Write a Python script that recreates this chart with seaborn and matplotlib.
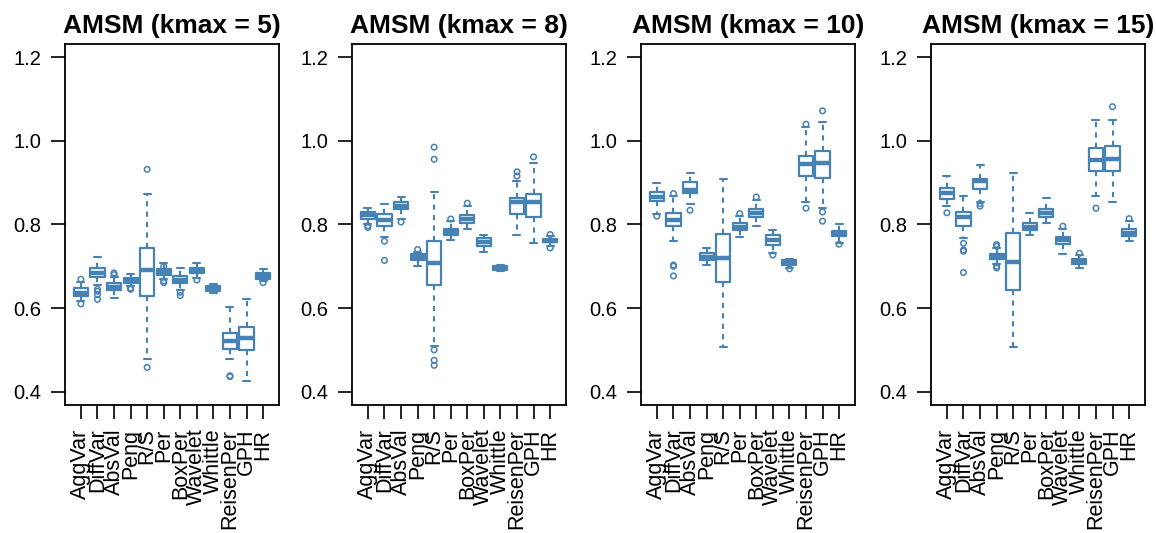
import numpy as np
import pandas as pd
import matplotlib
matplotlib.use("Agg")
import matplotlib.pyplot as plt
import seaborn as sns

# ---------------- data ----------------
METHODS = ["AggVar", "DiffVar", "AbsVal", "Peng", "R/S", "Per", "BoxPer",
           "Wavelet", "Whittle", "ReisenPer", "GPH", "HR"]
KMAX = [5, 8, 10, 15]
YTICKS = [0.4, 0.6, 0.8, 1.0, 1.2]

# kmax = 5
LOW_5 = [0.617, 0.655, 0.623, 0.652, 0.477, 0.670, 0.644, 0.672, 0.637, 0.477, 0.426, 0.664]
Q1_5 = [0.629, 0.674, 0.643, 0.660, 0.629, 0.680, 0.660, 0.684, 0.641, 0.503, 0.499, 0.670]
MED_5 = [0.637, 0.685, 0.651, 0.666, 0.690, 0.686, 0.668, 0.690, 0.648, 0.522, 0.528, 0.677]
Q3_5 = [0.647, 0.696, 0.659, 0.672, 0.743, 0.693, 0.677, 0.697, 0.654, 0.541, 0.555, 0.684]
HIGH_5 = [0.662, 0.723, 0.675, 0.681, 0.873, 0.707, 0.696, 0.709, 0.658, 0.603, 0.621, 0.694]
OUT_5 = [[0.669, 0.610], [0.645, 0.640, 0.632, 0.621], [0.680, 0.684], [0.648, 0.645],
         [0.932, 0.458], [0.700, 0.665, 0.661], [0.638, 0.630], [0.667], [],
         [0.436, 0.438], [], [0.661]]

# kmax = 8
LOW_8 = [0.802, 0.769, 0.814, 0.701, 0.510, 0.764, 0.789, 0.733, 0.688, 0.774, 0.756, 0.748]
Q1_8 = [0.814, 0.796, 0.837, 0.715, 0.655, 0.776, 0.804, 0.748, 0.692, 0.824, 0.819, 0.757]
MED_8 = [0.822, 0.811, 0.845, 0.722, 0.708, 0.783, 0.813, 0.757, 0.697, 0.853, 0.853, 0.761]
Q3_8 = [0.831, 0.826, 0.853, 0.729, 0.761, 0.790, 0.822, 0.767, 0.701, 0.863, 0.873, 0.766]
HIGH_8 = [0.839, 0.849, 0.867, 0.735, 0.877, 0.808, 0.845, 0.774, 0.704, 0.905, 0.946, 0.772]
OUT_8 = [[0.797, 0.793], [0.760, 0.714], [0.806], [0.740],
         [0.985, 0.956, 0.500, 0.475, 0.463], [0.813], [0.851], [], [],
         [0.916, 0.926], [0.962], [0.776, 0.744]]

# kmax = 10
LOW_10 = [0.826, 0.761, 0.848, 0.704, 0.508, 0.769, 0.796, 0.731, 0.697, 0.853, 0.840, 0.756]
Q1_10 = [0.856, 0.797, 0.875, 0.715, 0.662, 0.786, 0.819, 0.752, 0.703, 0.916, 0.912, 0.772]
MED_10 = [0.866, 0.810, 0.883, 0.723, 0.719, 0.795, 0.828, 0.763, 0.709, 0.944, 0.948, 0.778]
Q3_10 = [0.878, 0.827, 0.901, 0.731, 0.778, 0.804, 0.836, 0.774, 0.714, 0.965, 0.975, 0.784]
HIGH_10 = [0.900, 0.868, 0.924, 0.743, 0.908, 0.820, 0.858, 0.788, 0.717, 1.033, 1.046, 0.802]
OUT_10 = [[0.820], [0.874, 0.703, 0.700, 0.677], [0.834], [], [], [0.826], [0.866],
          [0.727], [0.694], [1.040, 0.839], [1.072, 0.830, 0.808], [0.753]]

# kmax = 15
LOW_15 = [0.845, 0.767, 0.853, 0.705, 0.508, 0.774, 0.804, 0.730, 0.696, 0.869, 0.853, 0.761]
Q1_15 = [0.861, 0.796, 0.885, 0.718, 0.643, 0.786, 0.819, 0.753, 0.705, 0.927, 0.927, 0.773]
MED_15 = [0.875, 0.818, 0.904, 0.723, 0.710, 0.795, 0.828, 0.762, 0.711, 0.954, 0.957, 0.780]
Q3_15 = [0.887, 0.831, 0.910, 0.729, 0.780, 0.804, 0.836, 0.771, 0.717, 0.983, 0.989, 0.789]
HIGH_15 = [0.915, 0.869, 0.942, 0.743, 0.923, 0.828, 0.863, 0.790, 0.727, 1.050, 1.050, 0.808]
OUT_15 = [[0.828], [0.755, 0.739, 0.736, 0.685], [0.844, 0.850], [0.752, 0.748, 0.700, 0.696],
          [], [], [], [0.796], [0.731], [0.839], [1.082], [0.814]]

STATS = {
    5: (LOW_5, Q1_5, MED_5, Q3_5, HIGH_5, OUT_5),
    8: (LOW_8, Q1_8, MED_8, Q3_8, HIGH_8, OUT_8),
    10: (LOW_10, Q1_10, MED_10, Q3_10, HIGH_10, OUT_10),
    15: (LOW_15, Q1_15, MED_15, Q3_15, HIGH_15, OUT_15),
}

# ---------------- style ----------------
BLUE = "#4682B4"
sns.set_theme(style="ticks")
plt.rcParams["font.family"] = ["Liberation Sans", "DejaVu Sans"]
plt.rcParams["text.color"] = "black"
plt.rcParams["axes.edgecolor"] = "black"
plt.rcParams["xtick.color"] = "black"
plt.rcParams["ytick.color"] = "black"

fig = plt.figure(figsize=(11.56, 5.33), dpi=100)
LEFTS = [65, 352, 641, 931]
W, H = 1156.0, 533.0

for i, k in enumerate(KMAX):
    ax = fig.add_axes([LEFTS[i] / W, (H - 405) / H, 214 / W, 361 / H])
    lo, q1, med, q3, hi, out = STATS[k]

    rows = []
    for j, m in enumerate(METHODS):
        for v in (lo[j], q1[j], med[j], q3[j], hi[j]):
            rows.append((m, v))
    box_df = pd.DataFrame(rows, columns=["method", "value"])

    sns.boxplot(
        data=box_df, x="method", y="value", order=METHODS, ax=ax,
        whis=(0, 100), showfliers=False, fill=False, color=BLUE,
        saturation=1, width=0.85, linewidth=1.6,
        boxprops=dict(color=BLUE, linewidth=1.6),
        medianprops=dict(color=BLUE, linewidth=3.2, solid_capstyle="butt"),
        whiskerprops=dict(color=BLUE, linewidth=1.5, linestyle=(0, (2.5, 2.5))),
        capprops=dict(color=BLUE, linewidth=1.5, linestyle="-"),
    )

    out_rows = [(m, v) for m, vals in zip(METHODS, out) for v in vals]
    out_df = pd.DataFrame(out_rows, columns=["method", "value"])
    sns.stripplot(
        data=out_df, x="method", y="value", order=METHODS, ax=ax,
        jitter=False, size=4.0, marker="o", color=BLUE,
        facecolor="none", edgecolor=BLUE, linewidth=1.1,
    )

    ax.set_xlim(-0.96, 11.96)
    ax.set_ylim(0.368, 1.232)
    ax.set_yticks(YTICKS)
    ax.set_yticklabels([f"{t:.1f}" for t in YTICKS], fontsize=14.5)
    ax.set_xticks(range(len(METHODS)))
    ax.set_xticklabels(METHODS, rotation=90, fontsize=15.5)
    ax.set_xlabel("")
    ax.set_ylabel("")
    ax.tick_params(axis="both", direction="out", length=10, width=1.2, pad=7)
    for sp in ax.spines.values():
        sp.set_visible(True)
        sp.set_color("black")
        sp.set_linewidth(1.3)
    ax.set_title(f"AMSM (kmax = {k})", fontsize=19, fontweight="bold", pad=8)

fig.savefig("out.png", dpi=100)
